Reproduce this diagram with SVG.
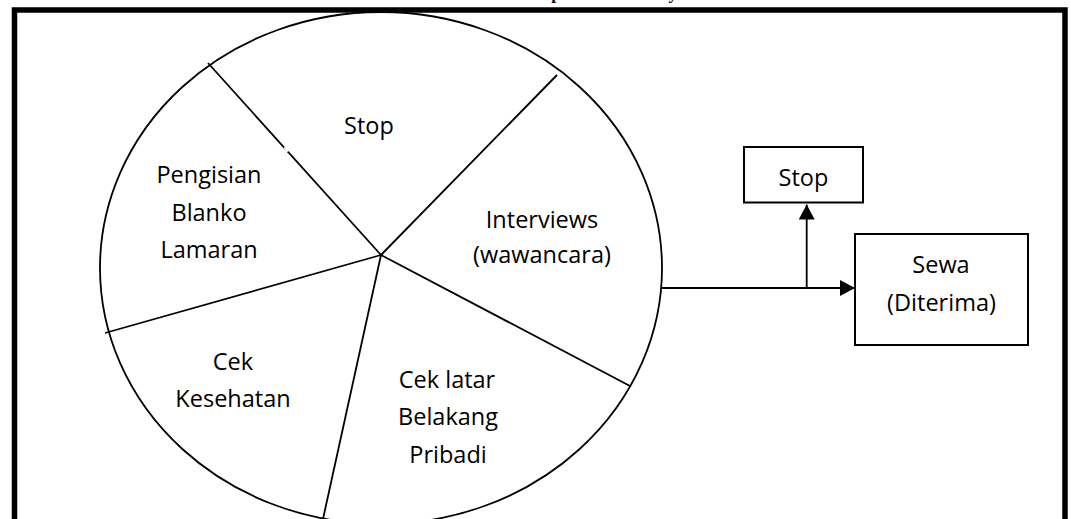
<svg xmlns="http://www.w3.org/2000/svg" width="1071" height="519" viewBox="0 0 1071 519">
  <style>
    .lbl { font-family: "Open Sans", "Noto Sans", "Liberation Sans", sans-serif; font-size: 23.5px; fill: #000; text-anchor: middle; }
    .ttl { font-family: "Liberation Serif", "Times New Roman", serif; font-size: 17.3px; font-weight: bold; fill: #000; }
    .ln { stroke: #000; stroke-width: 1.8; fill: none; }
    .box { stroke: #000; stroke-width: 2; fill: #fff; }
    .gap { stroke: #fff; stroke-width: 4; }
  </style>
  <defs>
    <marker id="arr" viewBox="0 0 15 16" refX="15" refY="8" markerWidth="15" markerHeight="16" markerUnits="userSpaceOnUse" orient="auto">
      <path d="M0,0 L15,8 L0,16 Z" fill="#000"/>
    </marker>
  </defs>
  <rect width="1071" height="519" fill="#fff"/>
  <text class="ttl" x="514.5" y="-1">Tahapan Seleksi Karyawan</text>
  <rect x="14.5" y="10" width="1050.5" height="530" fill="none" stroke="#000" stroke-width="5.5"/>

  <g id="pie">
    <ellipse class="ln" cx="381" cy="268" rx="281" ry="256"/>
    <line class="ln" x1="381" y1="255" x2="208" y2="63"/>
    <line class="ln" x1="381" y1="255" x2="557" y2="75"/>
    <line class="ln" x1="381" y1="255" x2="630" y2="386"/>
    <line class="ln" x1="381" y1="255" x2="323" y2="519"/>
    <line class="ln" x1="381" y1="255" x2="105" y2="333"/>
    <line class="gap" x1="285.5" y1="146.5" x2="288" y2="151.5"/>
    <line class="gap" x1="154" y1="424" x2="162" y2="434"/>
  </g>
  <g id="seg-stop"><text class="lbl" x="369" y="134">Stop</text></g>
  <g id="seg-pengisian">
    <text class="lbl" x="209" y="183">Pengisian</text>
    <text class="lbl" x="209" y="221">Blanko</text>
    <text class="lbl" x="209" y="258">Lamaran</text>
  </g>
  <g id="seg-interviews">
    <text class="lbl" x="542" y="228">Interviews</text>
    <text class="lbl" x="542" y="263">(wawancara)</text>
  </g>
  <g id="seg-cek-kesehatan">
    <text class="lbl" x="233" y="370">Cek</text>
    <text class="lbl" x="233" y="407">Kesehatan</text>
  </g>
  <g id="seg-cek-latar">
    <text class="lbl" x="447" y="388">Cek latar</text>
    <text class="lbl" x="448" y="425">Belakang</text>
    <text class="lbl" x="448" y="463">Pribadi</text>
  </g>

  <g id="stop-box">
    <rect class="box" x="744" y="147" width="119" height="55.5"/>
    <text class="lbl" x="803.5" y="186">Stop</text>
  </g>
  <g id="sewa-box">
    <rect class="box" x="855" y="234" width="173" height="111"/>
    <text class="lbl" x="941" y="273">Sewa</text>
    <text class="lbl" x="941.5" y="311">(Diterima)</text>
  </g>

  <g id="connectors">
    <line class="ln" x1="662" y1="288" x2="855" y2="288" marker-end="url(#arr)"/>
    <line class="ln" x1="806.7" y1="288" x2="806.7" y2="204.5" marker-end="url(#arr)"/>
  </g>
</svg>
